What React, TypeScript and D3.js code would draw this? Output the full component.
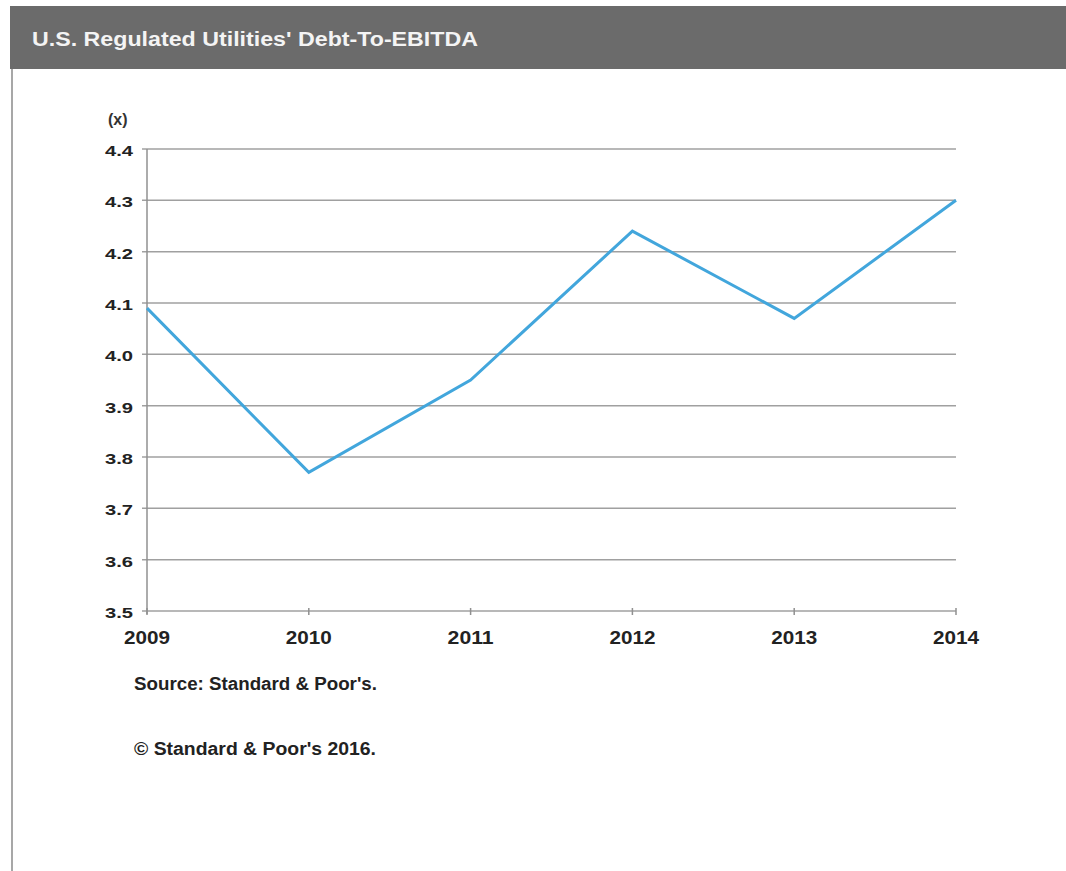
import React from "react";
import * as d3 from "d3";

const years = [2009, 2010, 2011, 2012, 2013, 2014];
const values = [4.09, 3.77, 3.95, 4.24, 4.07, 4.3];
const yTicks = [3.5, 3.6, 3.7, 3.8, 3.9, 4.0, 4.1, 4.2, 4.3, 4.4];
const title = "U.S. Regulated Utilities' Debt-To-EBITDA";
const unitLabel = "(x)";
const sourceText = "Source: Standard & Poor's.";
const copyrightText = "\u00A9 Standard & Poor's 2016.";

const W = 1066;
const H = 871;
const left = 147;
const right = 956;
const top = 149;
const bottom = 611;

export default function App() {
  const x = d3.scaleLinear().domain([2009, 2014]).range([left, right]);
  const y = d3.scaleLinear().domain([3.5, 4.4]).range([bottom, top]);
  const line = d3
    .line<number>()
    .x((_, i) => x(years[i]))
    .y((d) => y(d));
  const font = "'Liberation Sans', Arial, sans-serif";
  return (
    <div style={{ position: "absolute", left: 0, top: 0 }}>
      <svg width={W} height={H} style={{ display: "block", background: "#fff" }}>
        <rect x={10} y={6} width={W - 10} height={63} fill="#6b6b6b" />
        <text
          x={32}
          y={46}
          fill="#f4f4f4"
          fontFamily="'Liberation Sans Narrow', 'Liberation Sans', Arial, sans-serif"
          fontWeight="bold"
          fontSize={20}
          textLength={446}
          lengthAdjust="spacingAndGlyphs"
        >
          {title}
        </text>
        <line x1={12} x2={12} y1={69} y2={H} stroke="#8a8a8a" strokeWidth={1.5} />
        {yTicks.map((t) => (
          <g key={t}>
            <line x1={left - 5} x2={right} y1={y(t)} y2={y(t)} stroke="#a0a0a0" strokeWidth={1.5} />
            <text
              x={133}
              y={y(t) + 7}
              textAnchor="end"
              fontFamily={font}
              fontWeight="bold"
              fontSize={15}
              textLength={28}
              lengthAdjust="spacingAndGlyphs"
              fill="#222"
            >
              {t.toFixed(1)}
            </text>
          </g>
        ))}
        <line x1={left} x2={left} y1={top} y2={bottom + 3} stroke="#909090" strokeWidth={1.5} />
        {years.map((yr) => (
          <g key={yr}>
            <line x1={x(yr)} x2={x(yr)} y1={bottom - 3} y2={bottom + 4} stroke="#909090" strokeWidth={1.5} />
            <text
              x={x(yr)}
              y={644}
              textAnchor="middle"
              fontFamily={font}
              fontWeight="bold"
              fontSize={19}
              textLength={46}
              lengthAdjust="spacingAndGlyphs"
              fill="#222"
            >
              {yr}
            </text>
          </g>
        ))}
        <text x={108} y={125} fontFamily={font} fontWeight="bold" fontSize={16} fill="#333">
          {unitLabel}
        </text>
        <path d={line(values) || ""} fill="none" stroke="#42a6dc" strokeWidth={3} strokeLinejoin="miter" />
        <text
          x={134}
          y={690}
          fontFamily={font}
          fontWeight="bold"
          fontSize={18}
          textLength={243}
          lengthAdjust="spacingAndGlyphs"
          fill="#222"
        >
          {sourceText}
        </text>
        <text
          x={134}
          y={755}
          fontFamily={font}
          fontWeight="bold"
          fontSize={18}
          textLength={242}
          lengthAdjust="spacingAndGlyphs"
          fill="#222"
        >
          {copyrightText}
        </text>
      </svg>
    </div>
  );
}
